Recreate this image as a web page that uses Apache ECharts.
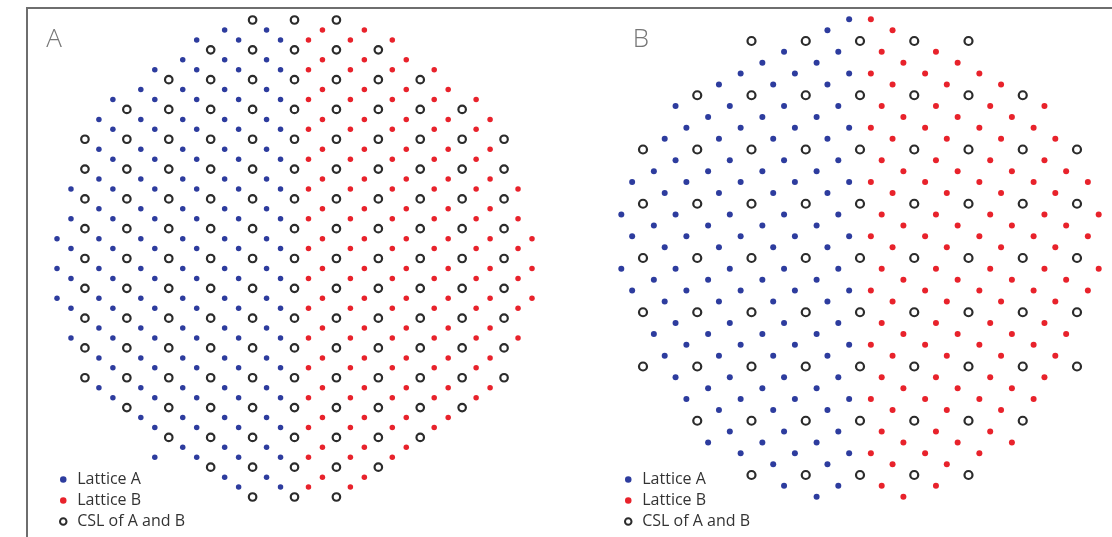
<!DOCTYPE html>
<html><head><meta charset="utf-8">
<script src="https://cdn.jsdelivr.net/npm/echarts@6/dist/echarts.min.js"></script>
<style>html,body{margin:0;padding:0;background:#fff}#c{width:1112px;height:537px}</style>
</head><body><div id="c"></div>
<script>
const panelLabels = ['A', 'B'];
const seriesNames = ['Lattice A', 'Lattice B', 'CSL of A and B'];

// Panel A — each row: [row index, column indices of points in that row]
const aCslRows = [
  [-24, -3, 0, 3],
  [-21, -6, -3, 0, 3, 6],
  [-18, -9, -6, -3, 0, 3, 6, 9],
  [-15, -12, -9, -6, -3, 0, 3, 6, 9, 12],
  [-12, -15, -12, -9, -6, -3, 0, 3, 6, 9, 12, 15],
  [-9, -15, -12, -9, -6, -3, 0, 3, 6, 9, 12, 15],
  [-6, -15, -12, -9, -6, -3, 0, 3, 6, 9, 12, 15],
  [-3, -15, -12, -9, -6, -3, 0, 3, 6, 9, 12, 15],
  [0, -15, -12, -9, -6, -3, 0, 3, 6, 9, 12, 15],
  [3, -15, -12, -9, -6, -3, 0, 3, 6, 9, 12, 15],
  [6, -15, -12, -9, -6, -3, 0, 3, 6, 9, 12, 15],
  [9, -15, -12, -9, -6, -3, 0, 3, 6, 9, 12, 15],
  [12, -15, -12, -9, -6, -3, 0, 3, 6, 9, 12, 15],
  [15, -12, -9, -6, -3, 0, 3, 6, 9, 12],
  [18, -9, -6, -3, 0, 3, 6, 9],
  [21, -6, -3, 0, 3, 6],
  [24, -3, 0, 3]
];
const aLatticeARows = [
  [-23, -5, -2],
  [-22, -7, -4, -1],
  [-20, -8, -5, -2],
  [-19, -10, -7, -4, -1],
  [-17, -11, -8, -5, -2],
  [-16, -13, -10, -7, -4, -1],
  [-14, -14, -11, -8, -5, -2],
  [-13, -13, -10, -7, -4, -1],
  [-11, -14, -11, -8, -5, -2],
  [-10, -13, -10, -7, -4, -1],
  [-8, -14, -11, -8, -5, -2],
  [-7, -16, -13, -10, -7, -4, -1],
  [-5, -14, -11, -8, -5, -2],
  [-4, -16, -13, -10, -7, -4, -1],
  [-2, -17, -14, -11, -8, -5, -2],
  [-1, -16, -13, -10, -7, -4, -1],
  [1, -17, -14, -11, -8, -5, -2],
  [2, -16, -13, -10, -7, -4, -1],
  [4, -17, -14, -11, -8, -5, -2],
  [5, -16, -13, -10, -7, -4, -1],
  [7, -14, -11, -8, -5, -2],
  [8, -16, -13, -10, -7, -4, -1],
  [10, -14, -11, -8, -5, -2],
  [11, -13, -10, -7, -4, -1],
  [13, -14, -11, -8, -5, -2],
  [14, -13, -10, -7, -4, -1],
  [16, -11, -8, -5, -2],
  [17, -10, -7, -4, -1],
  [19, -8, -5, -2],
  [20, -10, -7, -4, -1],
  [22, -5, -2],
  [23, -4, -1]
];
const aLatticeBRows = [
  [-23, 2, 5],
  [-22, 1, 4, 7],
  [-20, 2, 5, 8],
  [-19, 1, 4, 7, 10],
  [-17, 2, 5, 8, 11],
  [-16, 1, 4, 7, 10, 13],
  [-14, 2, 5, 8, 11, 14],
  [-13, 1, 4, 7, 10, 13],
  [-11, 2, 5, 8, 11, 14],
  [-10, 1, 4, 7, 10, 13],
  [-8, 2, 5, 8, 11, 14],
  [-7, 1, 4, 7, 10, 13, 16],
  [-5, 2, 5, 8, 11, 14],
  [-4, 1, 4, 7, 10, 13, 16],
  [-2, 2, 5, 8, 11, 14, 17],
  [-1, 1, 4, 7, 10, 13, 16],
  [1, 2, 5, 8, 11, 14, 17],
  [2, 1, 4, 7, 10, 13, 16],
  [4, 2, 5, 8, 11, 14, 17],
  [5, 1, 4, 7, 10, 13, 16],
  [7, 2, 5, 8, 11, 14],
  [8, 1, 4, 7, 10, 13, 16],
  [10, 2, 5, 8, 11, 14],
  [11, 1, 4, 7, 10, 13],
  [13, 2, 5, 8, 11, 14],
  [14, 1, 4, 7, 10, 13],
  [16, 2, 5, 8, 11],
  [17, 1, 4, 7, 10],
  [19, 2, 5, 8],
  [20, 1, 4, 7],
  [22, 2, 5],
  [23, 1, 4]
];

// Panel B — each row: [row index, column indices of points in that row]
const bCslRows = [
  [-20, -10, -5, 0, 5, 10],
  [-15, -15, -10, -5, 0, 5, 10, 15],
  [-10, -20, -15, -10, -5, 0, 5, 10, 15, 20],
  [-5, -20, -15, -10, -5, 0, 5, 10, 15, 20],
  [0, -20, -15, -10, -5, 0, 5, 10, 15, 20],
  [5, -20, -15, -10, -5, 0, 5, 10, 15, 20],
  [10, -20, -15, -10, -5, 0, 5, 10, 15, 20],
  [15, -15, -10, -5, 0, 5, 10, 15],
  [20, -10, -5, 0, 5, 10]
];
const bLatticeARows = [
  [-22, -1],
  [-21, -3],
  [-19, -7, -2],
  [-18, -9, -4],
  [-17, -11, -6, -1],
  [-16, -13, -8, -3],
  [-14, -17, -12, -7, -2],
  [-13, -14, -9, -4],
  [-12, -16, -11, -6, -1],
  [-11, -18, -13, -8, -3],
  [-9, -17, -12, -7, -2],
  [-8, -19, -14, -9, -4],
  [-7, -21, -16, -11, -6, -1],
  [-6, -18, -13, -8, -3],
  [-4, -22, -17, -12, -7, -2],
  [-3, -19, -14, -9, -4],
  [-2, -21, -16, -11, -6, -1],
  [-1, -18, -13, -8, -3],
  [1, -22, -17, -12, -7, -2],
  [2, -19, -14, -9, -4],
  [3, -21, -16, -11, -6, -1],
  [4, -18, -13, -8, -3],
  [6, -17, -12, -7, -2],
  [7, -19, -14, -9, -4],
  [8, -16, -11, -6, -1],
  [9, -18, -13, -8, -3],
  [11, -17, -12, -7, -2],
  [12, -14, -9, -4],
  [13, -16, -11, -6, -1],
  [14, -13, -8, -3],
  [16, -12, -7, -2],
  [17, -14, -9, -4],
  [18, -11, -6, -1],
  [19, -8, -3],
  [21, -7, -2],
  [22, -4]
];
const bLatticeBRows = [
  [-22, 1],
  [-21, 3],
  [-19, 2, 7],
  [-18, 4, 9],
  [-17, 1, 6, 11],
  [-16, 3, 8, 13],
  [-14, 2, 7, 12, 17],
  [-13, 4, 9, 14],
  [-12, 1, 6, 11, 16],
  [-11, 3, 8, 13, 18],
  [-9, 2, 7, 12, 17],
  [-8, 4, 9, 14, 19],
  [-7, 1, 6, 11, 16, 21],
  [-6, 3, 8, 13, 18],
  [-4, 2, 7, 12, 17, 22],
  [-3, 4, 9, 14, 19],
  [-2, 1, 6, 11, 16, 21],
  [-1, 3, 8, 13, 18],
  [1, 2, 7, 12, 17, 22],
  [2, 4, 9, 14, 19],
  [3, 1, 6, 11, 16, 21],
  [4, 3, 8, 13, 18],
  [6, 2, 7, 12, 17],
  [7, 4, 9, 14, 19],
  [8, 1, 6, 11, 16],
  [9, 3, 8, 13, 18],
  [11, 2, 7, 12, 17],
  [12, 4, 9, 14],
  [13, 1, 6, 11, 16],
  [14, 3, 8, 13],
  [16, 2, 7, 12],
  [17, 4, 9, 14],
  [18, 1, 6, 11],
  [19, 3, 8],
  [21, 2, 7],
  [22, 4]
];

function toPoints(rows) {
  const pts = [];
  rows.forEach(function (r) {
    for (let i = 1; i < r.length; i++) pts.push([r[i], r[0]]);
  });
  return pts;
}

const BLUE = '#2d3c9e', RED = '#e8222b', RING = '#2b2b2b';
const FONT = '"Open Sans", "Noto Sans", sans-serif';

function dotSeries(name, rows, idx, color, size) {
  return { type: 'scatter', name: name, xAxisIndex: idx, yAxisIndex: idx, clip: false,
    symbol: 'circle', symbolSize: size, itemStyle: { color: color, opacity: 1 },
    silent: true, data: toPoints(rows) };
}
function ringSeries(name, rows, idx, size) {
  return { type: 'scatter', name: name, xAxisIndex: idx, yAxisIndex: idx, clip: false, z: 3,
    symbol: 'circle', symbolSize: size, itemStyle: { color: '#fff', borderColor: RING, borderWidth: 2.2, opacity: 1 },
    silent: true, data: toPoints(rows) };
}
function hiddenAxis(grid, min, max, inverse) {
  return { type: 'value', gridIndex: grid, min: min, max: max, inverse: !!inverse, show: false,
    splitLine: { show: false }, axisLine: { show: false }, axisTick: { show: false }, axisLabel: { show: false } };
}
function legendFor(left) {
  return { orient: 'vertical', left: left, top: 471.5, height: 64, padding: 0,
    itemWidth: 18, itemHeight: 6.5, itemGap: 5, selectedMode: false,
    textStyle: { fontFamily: FONT, fontSize: 16, color: '#333', lineHeight: 16 },
    data: [
      { name: seriesNames[0], icon: 'circle', itemStyle: { color: BLUE } },
      { name: seriesNames[1], icon: 'circle', itemStyle: { color: RED } },
      { name: seriesNames[2], icon: 'circle', itemStyle: { color: '#fff', borderColor: RING, borderWidth: 2 } }
    ] };
}

const chart = echarts.init(document.getElementById('c'), null, { renderer: 'canvas' });
chart.setOption({
  animation: false,
  backgroundColor: '#fff',
  grid: [
    { left: 57, top: 20, width: 475, height: 477 },
    { left: 621.3, top: 19.3, width: 477.4, height: 477.4 }
  ],
  xAxis: [hiddenAxis(0, -17, 17), hiddenAxis(1, -22, 22)],
  yAxis: [hiddenAxis(0, -24, 24, true), hiddenAxis(1, -22, 22, true)],
  legend: [legendFor(59), legendFor(624)],
  graphic: [
    { type: 'line', silent: true, shape: { x1: 26, y1: 8, x2: 1112, y2: 8 }, style: { stroke: '#6e6e6e', lineWidth: 2 } },
    { type: 'line', silent: true, shape: { x1: 27, y1: 8, x2: 27, y2: 537 }, style: { stroke: '#6e6e6e', lineWidth: 2 } },
    { type: 'text', silent: true, x: 54, y: 40, style: { text: panelLabels[0], font: '300 26px ' + FONT, fill: '#777', align: 'center', verticalAlign: 'middle' } },
    { type: 'text', silent: true, x: 641, y: 40, style: { text: panelLabels[1], font: '300 26px ' + FONT, fill: '#777', align: 'center', verticalAlign: 'middle' } }
  ],
  series: [
    dotSeries(seriesNames[0], aLatticeARows, 0, BLUE, 5.5),
    dotSeries(seriesNames[1], aLatticeBRows, 0, RED, 5.5),
    ringSeries(seriesNames[2], aCslRows, 0, 7.5),
    dotSeries(seriesNames[0], bLatticeARows, 1, BLUE, 6),
    dotSeries(seriesNames[1], bLatticeBRows, 1, RED, 6),
    ringSeries(seriesNames[2], bCslRows, 1, 8)
  ]
});
</script>
</body></html>
